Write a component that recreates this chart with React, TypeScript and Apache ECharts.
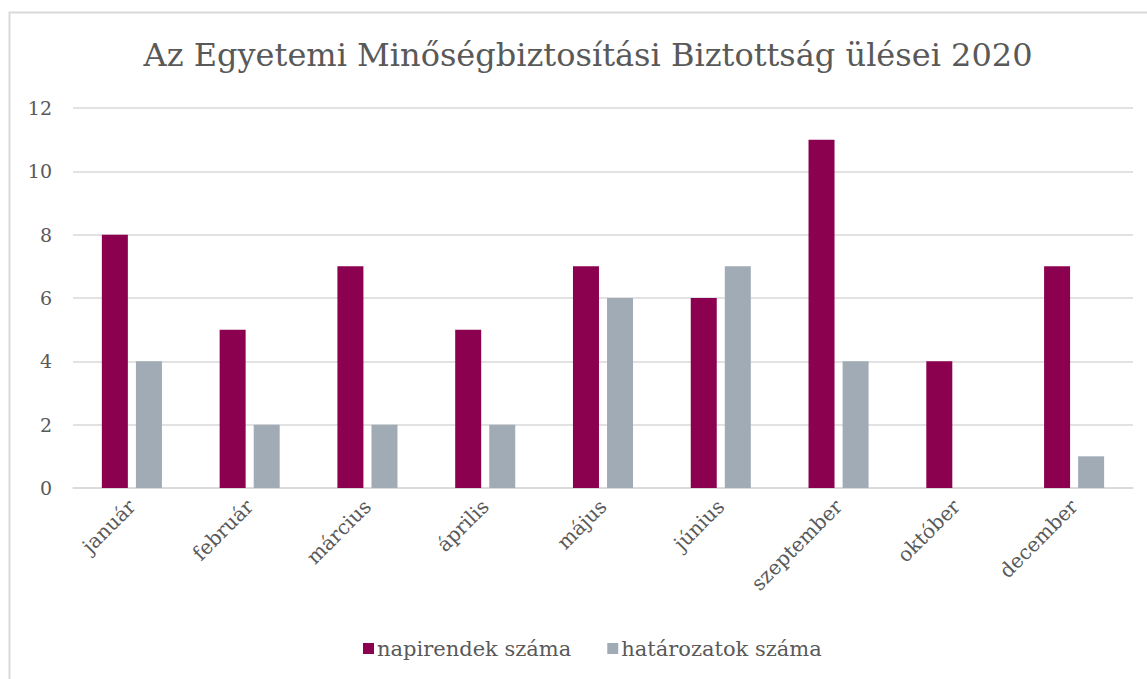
import React, { useEffect, useRef } from "react";
import * as echarts from "echarts";

const months = ["január", "február", "március", "április", "május", "június", "szeptember", "október", "december"];
const napirendek = [8, 5, 7, 5, 7, 6, 11, 4, 7];
const hatarozatok = [4, 2, 2, 2, 6, 7, 4, 0, 1];
const seriesNames = ["napirendek száma", "határozatok száma"];
const titleText = "Az Egyetemi Minőségbiztosítási Biztottság ülései 2020";

const FONT = "'DejaVu Serif', 'Liberation Serif', serif";
const TXT = "#595959";

export default function App() {
  const ref = useRef<HTMLDivElement>(null);
  useEffect(() => {
    if (!ref.current) return;
    const chart = echarts.init(ref.current, undefined, { renderer: "svg" });
    chart.setOption({
      animation: false,
      backgroundColor: "#ffffff",
      textStyle: { fontFamily: FONT, color: TXT },
      graphic: [
        {
          type: "rect",
          shape: { x: 9.5, y: 12.5, width: 1300, height: 800 },
          style: { fill: "none", stroke: "#d9d9d9", lineWidth: 2 },
          silent: true,
        },
      ],
      title: {
        text: titleText,
        left: 583,
        textAlign: "center",
        top: 34,
        textStyle: { fontFamily: FONT, fontSize: 32, fontWeight: "normal", color: TXT },
      },
      legend: {
        left: 358,
        top: 633,
        itemWidth: 11,
        itemHeight: 11,
        itemGap: 36,
        icon: "rect",
        textStyle: { fontFamily: FONT, fontSize: 21, color: TXT, padding: [0, 0, 0, -2] },
        data: seriesNames,
      },
      grid: { left: 73, right: 14, top: 108, bottom: 191, containLabel: false },
      xAxis: {
        type: "category",
        data: months,
        axisLine: { show: true, lineStyle: { color: "#d9d9d9", width: 1.5 } },
        axisTick: { show: false },
        axisLabel: { rotate: 45, fontFamily: FONT, fontSize: 20, color: TXT, margin: 15, interval: 0 },
      },
      yAxis: {
        type: "value",
        min: 0,
        max: 12,
        interval: 2,
        axisLine: { show: false },
        axisTick: { show: false },
        splitLine: { lineStyle: { color: "#d9d9d9", width: 1.5 } },
        axisLabel: { fontFamily: FONT, fontSize: 19, color: TXT, margin: 21 },
      },
      series: [
        {
          name: seriesNames[0],
          type: "bar",
          data: napirendek,
          barWidth: 26,
          barGap: "31%",
          itemStyle: { color: "#8b004f" },
        },
        {
          name: seriesNames[1],
          type: "bar",
          data: hatarozatok,
          barWidth: 26,
          itemStyle: { color: "#a0abb6" },
        },
      ],
    });
    return () => chart.dispose();
  }, []);
  return (
    <div
      ref={ref}
      style={{ position: "fixed", left: 0, top: 0, width: 1147, height: 679 }}
    />
  );
}
